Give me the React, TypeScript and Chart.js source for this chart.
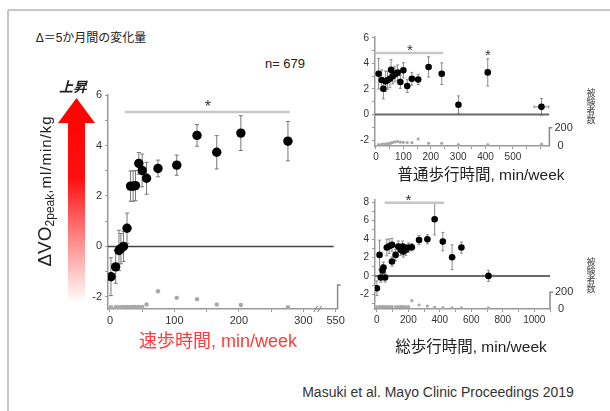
import React, { useEffect, useRef } from "react";
import { Chart, registerables } from "chart.js";
Chart.register(...registerables);

const FONT = '"Liberation Sans", "Noto Sans CJK JP", sans-serif';

// ---- 速歩時間 (left panel) ----
const briskMinutes = [1.6, 8.9, 14, 17, 21, 26.5, 32, 36, 39.6, 44.8, 50, 56.8, 74.5, 103.6, 135, 165.6, 203, 276];
const briskDelta = [-1.2, -0.81, -0.16, -0.09, 0.0, 0.72, 2.39, 2.39, 2.41, 3.29, 3.01, 2.7, 3.09, 3.22, 4.4, 3.73, 4.49, 4.17];
const briskSE = [0.75, 0.65, 0.8, 0.6, 0.6, 0.6, 0.6, 0.6, 0.6, 0.43, 0.65, 0.63, 0.33, 0.4, 0.43, 0.66, 0.69, 0.78];
const briskCount = [15, 15, 16, 16, 17, 18, 18, 18, 18, 18, 18, 38, 148, 93, 82, 38, 33, 16];
const briskTickLabels: Record<number, string> = { 0: "0", 100: "100", 200: "200", 300: "300", 350: "550" };

// ---- 普通歩行時間 (top right panel) ----
const normalMinutes = [9.7, 21, 27, 35, 42, 51, 55, 61, 69, 79, 89, 100, 114, 131, 154, 192, 240, 301, 408, 604];
const normalDelta = [3.2, 2.7, 2.02, 2.6, 2.68, 2.8, 3.5, 3.0, 3.15, 3.28, 2.55, 3.46, 2.23, 2.8, 2.75, 3.73, 3.2, 0.76, 3.3, 0.6];
const normalSE = [1.2, 0.8, 0.8, 0.8, 0.7, 0.7, 0.8, 0.6, 0.6, 0.6, 0.5, 0.6, 0.5, 0.5, 0.4, 0.8, 0.85, 0.7, 1.07, 0.65];
const normalXSE = [6, 5, 6, 6, 5, 6, 6, 5, 6, 6, 6, 6, 6, 6, 6, 8, 8, 6, 6, 27];
const normalCount = [15, 18, 20, 22, 25, 28, 35, 40, 45, 48, 42, 40, 38, 36, 76, 30, 30, 14, 14, 20];

// ---- 総歩行時間 (bottom right panel) ----
const totalMinutes = [0, 17, 25, 36, 42, 52, 63, 78, 96, 96, 119, 136, 151, 164, 168, 184, 201, 222, 268, 321, 367, 419, 478, 537, 709];
const totalDelta = [-1.34, 2.28, -0.18, 0.58, 0.9, -0.18, 3.08, 3.22, 3.37, 1.56, 2.28, 3.19, 2.83, 3.19, 2.64, 2.83, 3.08, 3.12, 3.9, 3.98, 6.16, 3.73, 2.03, 3.08, 0];
const totalSE = [0.8, 1.6, 0.5, 0.6, 0.6, 0.5, 0.9, 0.8, 0.7, 0.5, 0.6, 0.6, 0.6, 0.6, 0.6, 0.6, 0.5, 0.4, 0.5, 0.5, 1.7, 1.0, 1.35, 0.6, 0.6];
const totalXSE = [5, 6, 5, 5, 5, 5, 8, 8, 8, 8, 8, 8, 8, 8, 8, 8, 8, 8, 8, 8, 10, 10, 10, 10, 35];
const totalCount = [28, 28, 28, 28, 28, 28, 28, 28, 28, 28, 28, 28, 28, 28, 28, 28, 28, 100, 48, 36, 20, 16, 14, 14, 14];

type Spec = {
  xs: number[]; ys: number[]; yErr: number[]; xErr: number[] | null; ns: number[];
  xMin: number; xMax: number; xStep: number; xLabel: (v: number) => string;
  yMin: number; yMax: number; yLabelEvery: number; nMax: number;
  zeroEnd: number; zeroColor: string; zeroWidth: number;
  sig: { x0: number; x1: number; y: number };
  stars: { x: number; y: number }[];
  radius: number; nRadius: number; cap: number; errColor: string;
  tickFont: number; starFont: number;
  padTop: number; padRight: number; yWidth: number; xHeight: number;
  bracketLabels: boolean; axisBreak: number | null;
};

function buildConfig(s: Spec): any {
  const deco = {
    id: "deco",
    beforeDatasetsDraw(chart: any) {
      const { ctx } = chart;
      const xsc = chart.scales.x, ysc = chart.scales.y;
      ctx.save();
      ctx.strokeStyle = s.errColor;
      ctx.lineWidth = 1;
      s.xs.forEach((xv, i) => {
        const px = xsc.getPixelForValue(xv);
        const py = ysc.getPixelForValue(s.ys[i]);
        const t = ysc.getPixelForValue(s.ys[i] + s.yErr[i]);
        const b = ysc.getPixelForValue(s.ys[i] - s.yErr[i]);
        ctx.beginPath();
        ctx.moveTo(px, t); ctx.lineTo(px, b);
        ctx.moveTo(px - s.cap, t); ctx.lineTo(px + s.cap, t);
        ctx.moveTo(px - s.cap, b); ctx.lineTo(px + s.cap, b);
        if (s.xErr) {
          const l = xsc.getPixelForValue(xv - s.xErr[i]);
          const r = xsc.getPixelForValue(xv + s.xErr[i]);
          ctx.moveTo(l, py); ctx.lineTo(r, py);
          ctx.moveTo(l, py - s.cap); ctx.lineTo(l, py + s.cap);
          ctx.moveTo(r, py - s.cap); ctx.lineTo(r, py + s.cap);
        }
        ctx.stroke();
      });
      ctx.restore();
    },
    afterDraw(chart: any) {
      const { ctx, chartArea } = chart;
      const xsc = chart.scales.x, ysc = chart.scales.y, y2 = chart.scales.y2;
      ctx.save();
      const xr = chartArea.right;
      const yb = y2.getPixelForValue(0);
      const yt = y2.getPixelForValue(200);
      ctx.strokeStyle = "#8a8a8a";
      ctx.lineWidth = 1.5;
      ctx.beginPath();
      ctx.moveTo(xr, yb); ctx.lineTo(xr, yt); ctx.lineTo(xr + 3, yt);
      ctx.stroke();
      if (s.bracketLabels) {
        ctx.fillStyle = "#333";
        ctx.font = `${s.tickFont + 1}px ${FONT}`;
        ctx.textAlign = "left";
        ctx.textBaseline = "middle";
        ctx.fillText("200", xr + 5, yt);
        ctx.fillText("0", xr + 8, yb);
      }
      if (s.axisBreak != null) {
        const bx = xsc.getPixelForValue(s.axisBreak);
        const by = chartArea.bottom;
        ctx.strokeStyle = "#777";
        ctx.lineWidth = 1;
        ctx.beginPath();
        ctx.moveTo(bx - 4, by + 3); ctx.lineTo(bx, by - 3);
        ctx.moveTo(bx, by + 3); ctx.lineTo(bx + 4, by - 3);
        ctx.stroke();
      }
      ctx.fillStyle = "#333";
      ctx.font = `${s.starFont}px ${FONT}`;
      ctx.textAlign = "center";
      ctx.textBaseline = "alphabetic";
      s.stars.forEach((st) => {
        ctx.fillText("*", xsc.getPixelForValue(st.x), ysc.getPixelForValue(st.y) + s.starFont * 0.58);
      });
      ctx.restore();
    },
  };

  return {
    type: "scatter",
    data: {
      datasets: [
        {
          data: s.xs.map((x, i) => ({ x, y: s.ys[i] })),
          pointRadius: s.radius,
          backgroundColor: "#000",
          borderColor: "#000",
          borderWidth: 0,
          yAxisID: "y",
        },
        {
          data: s.xs.map((x, i) => ({ x, y: s.ns[i] })),
          pointRadius: s.nRadius,
          backgroundColor: "#a8a8a8",
          borderWidth: 0,
          yAxisID: "y2",
        },
        {
          type: "line",
          data: [{ x: s.xMin, y: 0 }, { x: s.zeroEnd, y: 0 }],
          borderColor: s.zeroColor,
          borderWidth: s.zeroWidth,
          pointRadius: 0,
          yAxisID: "y",
        },
        {
          type: "line",
          data: [{ x: s.sig.x0, y: s.sig.y }, { x: s.sig.x1, y: s.sig.y }],
          borderColor: "#c6c6c6",
          borderWidth: 2.5,
          pointRadius: 0,
          yAxisID: "y",
        },
      ],
    },
    options: {
      animation: false,
      responsive: false,
      devicePixelRatio: 1,
      events: [],
      plugins: { legend: { display: false }, tooltip: { enabled: false } },
      layout: { padding: { left: 0, top: s.padTop, right: s.padRight, bottom: 0 } },
      scales: {
        x: {
          type: "linear",
          min: s.xMin,
          max: s.xMax,
          ticks: {
            stepSize: s.xStep,
            maxTicksLimit: 60,
            includeBounds: false,
            autoSkip: false,
            maxRotation: 0,
            padding: 2,
            color: "#333",
            font: { size: s.tickFont, family: FONT },
            callback: (v: number) => s.xLabel(v),
          },
          grid: { drawOnChartArea: false, drawTicks: true, tickLength: 3, color: "#999", lineWidth: 1 },
          border: { color: "#999", width: 1.5 },
          afterFit: (sc: any) => { sc.height = s.xHeight; },
        },
        y: {
          type: "linear",
          min: s.yMin,
          max: s.yMax,
          ticks: {
            stepSize: 1,
            maxTicksLimit: 60,
            includeBounds: false,
            autoSkip: false,
            padding: 3,
            color: "#333",
            font: { size: s.tickFont, family: FONT },
            callback: (v: number) => (Math.round(v) % s.yLabelEvery === 0 ? String(v) : ""),
          },
          grid: { drawOnChartArea: false, drawTicks: true, tickLength: 3, color: "#999", lineWidth: 1 },
          border: { color: "#999", width: 1.5 },
          afterFit: (sc: any) => { sc.width = s.yWidth; },
        },
        y2: { type: "linear", display: false, position: "right", min: 0, max: s.nMax },
      },
    },
    plugins: [deco],
  };
}

const leftSpec: Spec = {
  xs: briskMinutes, ys: briskDelta, yErr: briskSE, xErr: null, ns: briskCount,
  xMin: -3, xMax: 353, xStep: 50, xLabel: (v) => briskTickLabels[v] ?? "",
  yMin: -2.48, yMax: 6, yLabelEvery: 2, nMax: 1783,
  zeroEnd: 347, zeroColor: "#444", zeroWidth: 1.5,
  sig: { x0: 23, x1: 279, y: 5.33 },
  stars: [{ x: 152, y: 5.68 }],
  radius: 4.7, nRadius: 2.2, cap: 2, errColor: "#777",
  tickFont: 11, starFont: 16,
  padTop: 15, padRight: 22.4, yWidth: 48, xHeight: 41,
  bracketLabels: false, axisBreak: 322,
};

const normalSpec: Spec = {
  xs: normalMinutes, ys: normalDelta, yErr: normalSE, xErr: normalXSE, ns: normalCount,
  xMin: -3.6, xMax: 633, xStep: 50, xLabel: (v) => (v % 100 === 0 && v <= 500 ? String(v) : ""),
  yMin: -2.47, yMax: 6.1, yLabelEvery: 2, nMax: 1195,
  zeroEnd: 633, zeroColor: "#6a6a6a", zeroWidth: 2,
  sig: { x0: -3.6, x1: 245, y: 4.83 },
  stars: [{ x: 124, y: 5.38 }, { x: 409, y: 4.98 }],
  radius: 3.3, nRadius: 1.6, cap: 1.5, errColor: "#8a8a8a",
  tickFont: 10, starFont: 15,
  padTop: 16.7, padRight: 55.6, yWidth: 45, xHeight: 39,
  bracketLabels: true, axisBreak: null,
};

const totalSpec: Spec = {
  xs: totalMinutes, ys: totalDelta, yErr: totalSE, xErr: totalXSE, ns: totalCount,
  xMin: -12, xMax: 1100, xStep: 100, xLabel: (v) => (v % 200 === 0 && v <= 1000 ? String(v) : ""),
  yMin: -3.6, yMax: 8.25, yLabelEvery: 2, nMax: 1305,
  zeroEnd: 1100, zeroColor: "#6a6a6a", zeroWidth: 2,
  sig: { x0: 50, x1: 428, y: 7.95 },
  stars: [{ x: 201, y: 8.62 }],
  radius: 3.3, nRadius: 1.6, cap: 1.5, errColor: "#8a8a8a",
  tickFont: 10, starFont: 15,
  padTop: 15, padRight: 55, yWidth: 45, xHeight: 36,
  bracketLabels: true, axisBreak: null,
};

function Panel(props: { spec: Spec; left: number; top: number; width: number; height: number }) {
  const ref = useRef<HTMLCanvasElement | null>(null);
  useEffect(() => {
    const chart = new Chart(ref.current as HTMLCanvasElement, buildConfig(props.spec));
    return () => chart.destroy();
  }, []);
  return (
    <canvas
      ref={ref}
      width={props.width}
      height={props.height}
      style={{ position: "absolute", left: props.left, top: props.top, width: props.width, height: props.height }}
    />
  );
}

function Label(props: { x: number; y: number; size: number; color?: string; weight?: string | number; style?: any; children: any }) {
  return (
    <div
      style={{
        position: "absolute",
        left: props.x,
        top: props.y,
        transform: "translate(-50%, -50%)",
        whiteSpace: "nowrap",
        fontFamily: FONT,
        fontSize: props.size,
        color: props.color ?? "#222",
        fontWeight: props.weight ?? "normal",
        lineHeight: 1,
        ...(props.style || {}),
      }}
    >
      {props.children}
    </div>
  );
}

export default function App() {
  return (
    <div style={{ position: "absolute", left: 0, top: 0, width: 610, height: 411, background: "#fff", overflow: "hidden" }}>
      <svg width={610} height={411} style={{ position: "absolute", left: 0, top: 0 }}>
        <defs>
          <linearGradient id="arrowGrad" x1="0" y1="0" x2="0" y2="1">
            <stop offset="0" stopColor="#ff0000" stopOpacity="1" />
            <stop offset="0.4" stopColor="#ff1010" stopOpacity="1" />
            <stop offset="1" stopColor="#ff2020" stopOpacity="0.03" />
          </linearGradient>
        </defs>
        <line x1={8} y1={10} x2={610} y2={10} stroke="#c6c6c6" strokeWidth={2} />
        <line x1={8} y1={10} x2={8} y2={411} stroke="#c6c6c6" strokeWidth={2} />
        <polygon points="76.5,98 95,123 85,123 85,300 68,300 68,123 58,123" fill="url(#arrowGrad)" />
      </svg>

      <Panel spec={leftSpec} left={60} top={80} width={300} height={270} />
      <Panel spec={normalSpec} left={330} top={20} width={275} height={165} />
      <Panel spec={totalSpec} left={330} top={185} width={275} height={160} />

      <Label x={91} y={38} size={12}>Δ＝5か月間の変化量</Label>
      <Label x={285} y={63} size={13}>n= 679</Label>
      <Label x={73} y={87} size={14} weight="bold" style={{ fontStyle: "italic" }}>上昇</Label>
      <div
        style={{
          position: "absolute",
          left: 45,
          top: 191,
          transform: "translate(-50%, -50%) rotate(-90deg)",
          whiteSpace: "nowrap",
          fontFamily: FONT,
          color: "#222",
          lineHeight: 1,
        }}
      >
        <span style={{ fontSize: 19 }}>ΔVO</span>
        <span style={{ fontSize: 12, verticalAlign: "-3px" }}>2peak</span>
        <span style={{ fontSize: 15, letterSpacing: 1 }}>,ml/min/kg</span>
      </div>
      <Label x={218} y={341} size={18} color="#ff3b3b">速歩時間, min/week</Label>
      <Label x={481} y={175} size={15.5}>普通歩行時間, min/week</Label>
      <Label x={471} y={347} size={15.5}>総歩行時間, min/week</Label>
      <Label x={590} y={106} size={9} style={{ writingMode: "vertical-rl", color: "#444" }}>被験者数</Label>
      <Label x={590} y={275} size={9} style={{ writingMode: "vertical-rl", color: "#444" }}>被験者数</Label>
      <Label x={438} y={392} size={14} color="#333">Masuki et al. Mayo Clinic Proceedings 2019</Label>
    </div>
  );
}
